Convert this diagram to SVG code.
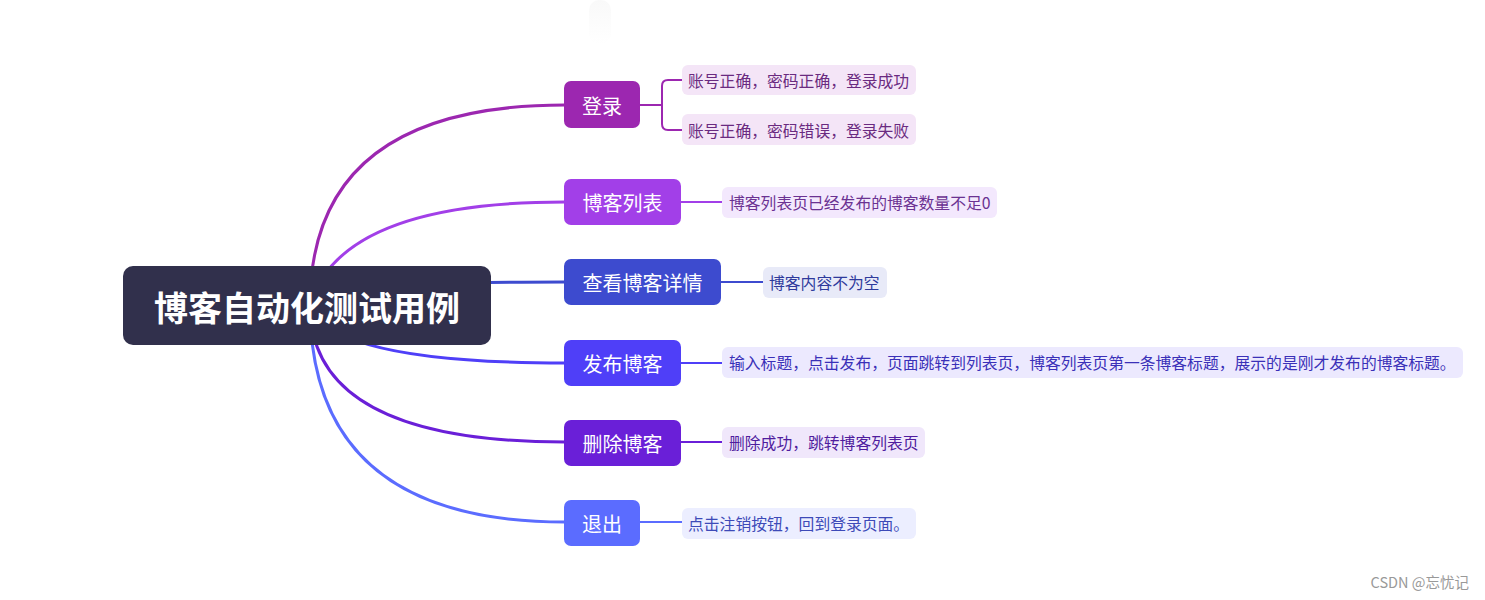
<svg xmlns="http://www.w3.org/2000/svg" width="1485" height="600" viewBox="0 0 1485 600">
<style>
text{font-family:"Noto Sans CJK SC","Noto Sans",sans-serif;}
.br{font-size:20px;fill:#ffffff;text-anchor:middle;dominant-baseline:central;}
.lf{font-size:15.8px;dominant-baseline:central;}
.curve{fill:none;stroke-width:3;}
.lc{fill:none;stroke-width:2;}
</style>
<defs>
<linearGradient id="fade" x1="0" y1="0" x2="0" y2="1">
<stop offset="0" stop-color="#f9f9f9"/>
<stop offset="1" stop-color="#ffffff"/>
</linearGradient>
</defs>
<rect width="1485" height="600" fill="#ffffff"/>
<rect x="589" y="0" width="22" height="44" rx="10" fill="url(#fade)"/>
<g id="connectors">
<path class="curve" stroke="#9C27B0" d="M310 305 Q310 105 565 105"/>
<path class="curve" stroke="#A23FE8" d="M310 305 Q340 202 565 202"/>
<path class="curve" stroke="#3D4BCF" d="M310 305 Q310 282 565 282"/>
<path class="curve" stroke="#4F3FF8" d="M310 305 Q330 363 565 363"/>
<path class="curve" stroke="#6A1FD8" d="M310 305 Q310 442 565 442"/>
<path class="curve" stroke="#5B6CFF" d="M310 305 Q310 522 565 522"/>
<path class="lc" stroke="#9C27B0" d="M640 105 H662 M682 80 H668 Q662 80 662 86 V124 Q662 130 668 130 H682"/>
<path class="lc" stroke="#A23FE8" d="M681 202 H722"/>
<path class="lc" stroke="#3D4BCF" d="M721 282 H763"/>
<path class="lc" stroke="#4F3FF8" d="M681 363 H722"/>
<path class="lc" stroke="#6A1FD8" d="M681 442 H722"/>
<path class="lc" stroke="#5B6CFF" d="M640 522 H682"/>
</g>
<g id="root">
<rect x="123" y="266" width="368" height="79" rx="10" fill="#31304C"/>
<text x="307" y="306" font-size="34" font-weight="bold" fill="#ffffff" text-anchor="middle" dominant-baseline="central">博客自动化测试用例</text>
</g>
<g id="n-login">
<rect x="564" y="81" width="76" height="47" rx="7" fill="#9C27B0"/>
<text class="br" x="602" y="105">登录</text>
</g>
<g id="l-login1">
<rect x="682" y="65" width="234" height="30" rx="6" fill="#F4E5F7"/>
<text class="lf" x="688" y="80" fill="#6A2A80">账号正确，密码正确，登录成功</text>
</g>
<g id="l-login2">
<rect x="682" y="114" width="234" height="31" rx="6" fill="#F4E5F7"/>
<text class="lf" x="688" y="130" fill="#6A2A80">账号正确，密码错误，登录失败</text>
</g>
<g id="n-list">
<rect x="564" y="179" width="117" height="46" rx="7" fill="#A23FE8"/>
<text class="br" x="622.5" y="202">博客列表</text>
</g>
<g id="l-list">
<rect x="722" y="187" width="275" height="31" rx="6" fill="#F3E8FD"/>
<text class="lf" x="729" y="202.5" fill="#6B3292">博客列表页已经发布的博客数量不足0</text>
</g>
<g id="n-detail">
<rect x="564" y="259" width="157" height="46" rx="7" fill="#3D4BCF"/>
<text class="br" x="642.5" y="282">查看博客详情</text>
</g>
<g id="l-detail">
<rect x="763" y="267" width="124" height="31" rx="6" fill="#E8EAF8"/>
<text class="lf" x="769" y="282.5" fill="#2F3A9C">博客内容不为空</text>
</g>
<g id="n-publish">
<rect x="564" y="340" width="117" height="46" rx="7" fill="#4F3FF8"/>
<text class="br" x="622.5" y="363">发布博客</text>
</g>
<g id="l-publish">
<rect x="722" y="347" width="741" height="31" rx="6" fill="#ECE9FE"/>
<text class="lf" x="729" y="362.5" fill="#3A30B8">输入标题，点击发布，页面跳转到列表页，博客列表页第一条博客标题，展示的是刚才发布的博客标题。</text>
</g>
<g id="n-delete">
<rect x="564" y="420" width="117" height="46" rx="7" fill="#6A1FD8"/>
<text class="br" x="622.5" y="443">删除博客</text>
</g>
<g id="l-delete">
<rect x="722" y="427" width="203" height="31" rx="6" fill="#F0E7FB"/>
<text class="lf" x="729" y="442.5" fill="#4F1C9E">删除成功，跳转博客列表页</text>
</g>
<g id="n-logout">
<rect x="564" y="500" width="76" height="46" rx="7" fill="#5B6CFF"/>
<text class="br" x="602" y="523">退出</text>
</g>
<g id="l-logout">
<rect x="682" y="508" width="234" height="31" rx="6" fill="#ECEEFF"/>
<text class="lf" x="688" y="523.5" fill="#3D4AB8">点击注销按钮，回到登录页面。</text>
</g>
<text x="1469" y="588" font-size="14.5" fill="#999999" text-anchor="end">CSDN @忘忧记</text>
</svg>
